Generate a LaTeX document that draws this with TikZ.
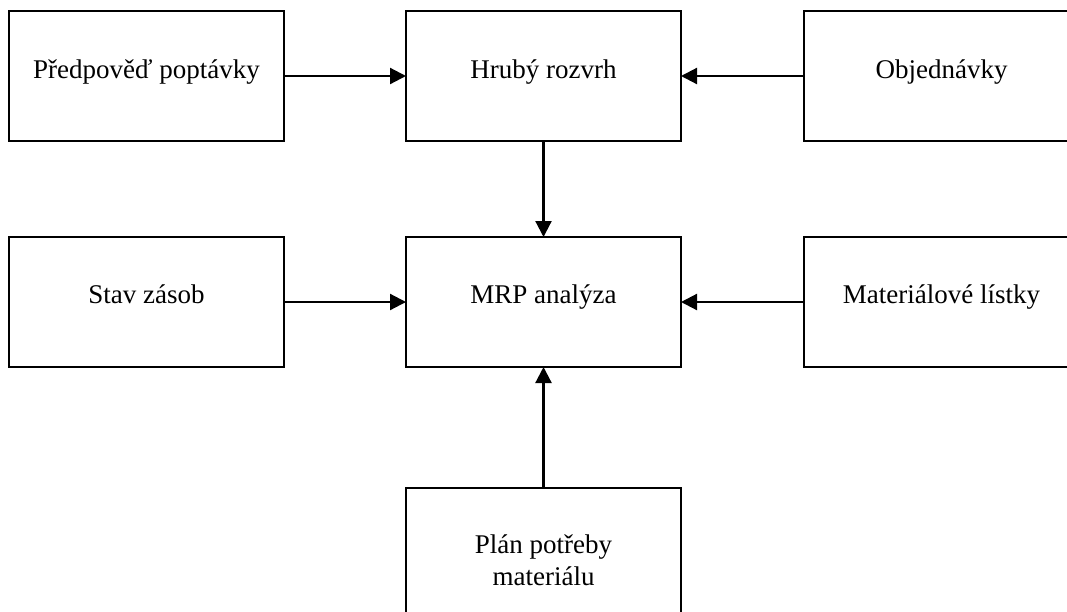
\documentclass[tikz,border=0pt]{standalone}
\usepackage{fontspec}
\setmainfont{Liberation Serif}
\usetikzlibrary{arrows.meta}
\begin{document}
\begin{tikzpicture}[x=1pt,y=-1pt,
  box/.style={draw, line width=2pt, minimum width=275pt, minimum height=130pt,
              inner sep=0pt, outer sep=0pt, anchor=north west},
  lbl/.style={anchor=base, font=\fontsize{27}{32}\selectfont, align=center, inner sep=0pt},
  flow/.style={line width=2.2pt, -{Triangle[length=16pt,width=16pt]}}]
  \useasboundingbox (0,0) rectangle (1067,611);
  \clip (0,0) rectangle (1067,611);

  % process boxes
  \node[box] (pred) at (9,11)   {};
  \node[box] (hrub) at (406,11) {};
  \node[box] (obj)  at (804,11) {};
  \node[box] (stav) at (9,237)  {};
  \node[box] (mrp)  at (406,237) {};
  \node[box] (mat)  at (804,237) {};
  \node[box] (plan) at (406,488) {};

  % box captions (base anchor sits on the last line)
  \node[lbl] (tpred) at ([yshift=-67pt]pred.north) {Předpověď poptávky};
  \node[lbl] (thrub) at ([yshift=-67pt]hrub.north) {Hrubý rozvrh};
  \node[lbl] (tobj)  at ([yshift=-67pt]obj.north)  {Objednávky};
  \node[lbl] (tstav) at ([yshift=-66pt]stav.north) {Stav zásob};
  \node[lbl] (tmrp)  at ([yshift=-66pt]mrp.north)  {MRP analýza};
  \node[lbl] (tmat)  at ([yshift=-66pt]mat.north)  {Materiálové lístky};
  \node[lbl] (tplan) at ([yshift=-97pt]plan.north) {Plán potřeby\\materiálu};

  % flows
  \draw[flow] (pred) -- (hrub);
  \draw[flow] (obj)  -- (hrub);
  \draw[flow] (hrub) -- (mrp);
  \draw[flow] (stav) -- (mrp);
  \draw[flow] (mat)  -- (mrp);
  \draw[flow] (plan) -- (mrp);
\end{tikzpicture}
\end{document}
